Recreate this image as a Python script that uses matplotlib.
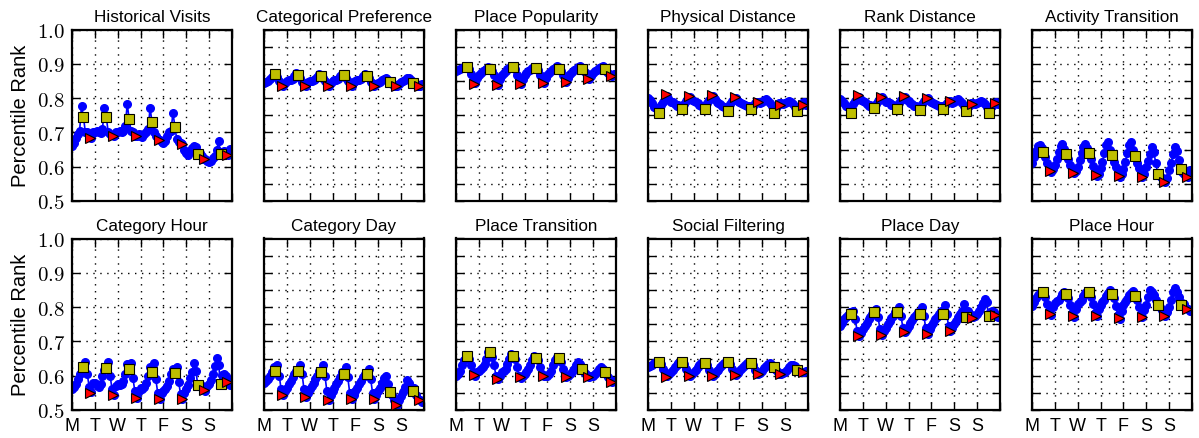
import matplotlib
matplotlib.use('Agg')
import matplotlib.pyplot as plt
import numpy as np

plt.rcParams['font.family'] = ['Liberation Sans', 'DejaVu Sans']
plt.rcParams['mathtext.fontset'] = 'cm'

titles = ['Historical Visits', 'Categorical Preference', 'Place Popularity',
          'Physical Distance', 'Rank Distance', 'Activity Transition',
          'Category Hour', 'Category Day', 'Place Transition',
          'Social Filtering', 'Place Day', 'Place Hour']
day_labels = ['M', 'T', 'W', 'T', 'F', 'S', 'S']

# percentile rank every two hours, from Monday 00:00 (one row per day)
historical_visits = [
    0.660, 0.670, 0.685, 0.695, 0.705, 0.778, 0.746, 0.700, 0.700, 0.690, 0.684, 0.700,
    0.702, 0.705, 0.700, 0.698, 0.710, 0.772, 0.746, 0.700, 0.695, 0.692, 0.690, 0.700,
    0.700, 0.705, 0.702, 0.705, 0.720, 0.783, 0.739, 0.705, 0.700, 0.690, 0.689, 0.695,
    0.690, 0.688, 0.695, 0.700, 0.710, 0.772, 0.729, 0.700, 0.690, 0.680, 0.677, 0.672,
    0.668, 0.675, 0.690, 0.700, 0.705, 0.758, 0.717, 0.680, 0.672, 0.668, 0.665, 0.648,
    0.640, 0.635, 0.645, 0.655, 0.660, 0.658, 0.638, 0.640, 0.632, 0.622, 0.621, 0.618,
    0.615, 0.618, 0.625, 0.632, 0.650, 0.675, 0.638, 0.642, 0.645, 0.638, 0.634, 0.652]
categorical_preference = [
    0.845, 0.848, 0.850, 0.855, 0.862, 0.872, 0.870, 0.862, 0.850, 0.838, 0.836, 0.845,
    0.850, 0.852, 0.852, 0.856, 0.864, 0.872, 0.867, 0.860, 0.848, 0.837, 0.835, 0.846,
    0.850, 0.851, 0.853, 0.855, 0.862, 0.870, 0.864, 0.858, 0.849, 0.838, 0.835, 0.845,
    0.851, 0.852, 0.853, 0.857, 0.864, 0.871, 0.867, 0.860, 0.850, 0.838, 0.836, 0.846,
    0.850, 0.852, 0.854, 0.857, 0.863, 0.869, 0.864, 0.858, 0.848, 0.838, 0.835, 0.842,
    0.845, 0.848, 0.852, 0.856, 0.858, 0.854, 0.846, 0.842, 0.838, 0.835, 0.834, 0.840,
    0.846, 0.850, 0.853, 0.858, 0.860, 0.852, 0.843, 0.840, 0.838, 0.836, 0.835, 0.840]
place_popularity = [
    0.880, 0.882, 0.884, 0.887, 0.890, 0.893, 0.891, 0.885, 0.870, 0.852, 0.843, 0.858,
    0.868, 0.874, 0.878, 0.882, 0.886, 0.890, 0.886, 0.880, 0.866, 0.848, 0.838, 0.855,
    0.866, 0.873, 0.879, 0.884, 0.888, 0.893, 0.891, 0.885, 0.868, 0.850, 0.842, 0.856,
    0.866, 0.873, 0.878, 0.883, 0.888, 0.892, 0.888, 0.882, 0.868, 0.852, 0.845, 0.858,
    0.868, 0.874, 0.879, 0.884, 0.889, 0.894, 0.886, 0.880, 0.868, 0.855, 0.847, 0.860,
    0.870, 0.876, 0.882, 0.886, 0.890, 0.894, 0.886, 0.880, 0.872, 0.862, 0.855, 0.865,
    0.872, 0.878, 0.883, 0.888, 0.892, 0.895, 0.884, 0.878, 0.872, 0.868, 0.864, 0.870]
physical_distance = [
    0.800, 0.795, 0.785, 0.775, 0.772, 0.770, 0.768, 0.780, 0.790, 0.800, 0.805, 0.795,
    0.790, 0.788, 0.783, 0.778, 0.780, 0.776, 0.772, 0.782, 0.792, 0.800, 0.803, 0.795,
    0.792, 0.790, 0.786, 0.780, 0.778, 0.776, 0.773, 0.785, 0.795, 0.802, 0.805, 0.796,
    0.790, 0.786, 0.782, 0.776, 0.774, 0.773, 0.770, 0.782, 0.792, 0.798, 0.800, 0.792,
    0.788, 0.786, 0.783, 0.780, 0.778, 0.776, 0.772, 0.778, 0.786, 0.790, 0.790, 0.786,
    0.790, 0.794, 0.796, 0.792, 0.785, 0.776, 0.768, 0.772, 0.780, 0.786, 0.786, 0.782,
    0.786, 0.790, 0.792, 0.790, 0.782, 0.775, 0.770, 0.772, 0.778, 0.785, 0.788, 0.780]
rank_distance = [
    0.798, 0.793, 0.786, 0.777, 0.773, 0.770, 0.768, 0.782, 0.792, 0.800, 0.804, 0.794,
    0.791, 0.788, 0.782, 0.777, 0.779, 0.777, 0.773, 0.784, 0.793, 0.800, 0.802, 0.794,
    0.790, 0.789, 0.785, 0.780, 0.779, 0.777, 0.774, 0.786, 0.795, 0.801, 0.803, 0.795,
    0.791, 0.787, 0.782, 0.777, 0.776, 0.774, 0.771, 0.783, 0.792, 0.798, 0.799, 0.792,
    0.789, 0.786, 0.783, 0.780, 0.778, 0.776, 0.773, 0.779, 0.787, 0.792, 0.792, 0.787,
    0.790, 0.795, 0.797, 0.793, 0.786, 0.777, 0.770, 0.774, 0.781, 0.786, 0.787, 0.783,
    0.786, 0.790, 0.793, 0.790, 0.783, 0.775, 0.768, 0.771, 0.778, 0.785, 0.788, 0.782]
activity_transition = [
    0.610, 0.628, 0.645, 0.660, 0.664, 0.655, 0.643, 0.628, 0.612, 0.595, 0.585, 0.592,
    0.605, 0.622, 0.642, 0.660, 0.667, 0.652, 0.638, 0.622, 0.605, 0.590, 0.581, 0.588,
    0.600, 0.620, 0.640, 0.658, 0.665, 0.654, 0.640, 0.622, 0.602, 0.585, 0.574, 0.580,
    0.595, 0.615, 0.640, 0.662, 0.672, 0.650, 0.633, 0.615, 0.598, 0.582, 0.571, 0.578,
    0.593, 0.615, 0.640, 0.662, 0.672, 0.650, 0.632, 0.612, 0.595, 0.580, 0.570, 0.578,
    0.598, 0.618, 0.638, 0.656, 0.642, 0.610, 0.580, 0.572, 0.566, 0.558, 0.555, 0.568,
    0.590, 0.612, 0.636, 0.656, 0.645, 0.620, 0.594, 0.586, 0.580, 0.573, 0.570, 0.590]
category_hour = [
    0.560, 0.566, 0.576, 0.590, 0.605, 0.620, 0.626, 0.640, 0.605, 0.568, 0.552, 0.580,
    0.578, 0.572, 0.566, 0.575, 0.600, 0.618, 0.622, 0.640, 0.600, 0.562, 0.545, 0.570,
    0.575, 0.572, 0.575, 0.586, 0.606, 0.634, 0.620, 0.637, 0.592, 0.555, 0.536, 0.555,
    0.565, 0.560, 0.566, 0.580, 0.600, 0.625, 0.610, 0.638, 0.590, 0.550, 0.533, 0.550,
    0.556, 0.560, 0.570, 0.586, 0.606, 0.620, 0.609, 0.624, 0.582, 0.546, 0.531, 0.550,
    0.560, 0.572, 0.592, 0.612, 0.638, 0.615, 0.574, 0.576, 0.570, 0.560, 0.556, 0.570,
    0.576, 0.588, 0.605, 0.628, 0.652, 0.630, 0.577, 0.602, 0.606, 0.598, 0.584, 0.572]
category_day = [
    0.580, 0.585, 0.590, 0.600, 0.610, 0.625, 0.615, 0.630, 0.600, 0.560, 0.543, 0.555,
    0.565, 0.575, 0.585, 0.595, 0.605, 0.615, 0.613, 0.632, 0.605, 0.560, 0.538, 0.550,
    0.560, 0.570, 0.580, 0.590, 0.600, 0.615, 0.612, 0.632, 0.600, 0.555, 0.530, 0.545,
    0.555, 0.565, 0.575, 0.585, 0.595, 0.610, 0.605, 0.625, 0.595, 0.550, 0.532, 0.545,
    0.555, 0.565, 0.575, 0.585, 0.595, 0.605, 0.606, 0.620, 0.590, 0.550, 0.532, 0.545,
    0.555, 0.565, 0.578, 0.592, 0.598, 0.575, 0.553, 0.545, 0.530, 0.520, 0.516, 0.530,
    0.540, 0.552, 0.568, 0.588, 0.580, 0.568, 0.556, 0.565, 0.545, 0.532, 0.528, 0.522]
place_transition = [
    0.600, 0.605, 0.615, 0.630, 0.645, 0.655, 0.658, 0.650, 0.630, 0.610, 0.600, 0.610,
    0.615, 0.620, 0.625, 0.635, 0.650, 0.668, 0.668, 0.655, 0.630, 0.600, 0.590, 0.600,
    0.610, 0.615, 0.620, 0.635, 0.650, 0.662, 0.658, 0.648, 0.625, 0.600, 0.594, 0.600,
    0.605, 0.610, 0.620, 0.630, 0.645, 0.658, 0.653, 0.645, 0.625, 0.605, 0.598, 0.600,
    0.600, 0.605, 0.615, 0.630, 0.645, 0.655, 0.652, 0.640, 0.620, 0.600, 0.595, 0.600,
    0.605, 0.610, 0.620, 0.632, 0.640, 0.635, 0.620, 0.612, 0.605, 0.598, 0.595, 0.598,
    0.600, 0.605, 0.612, 0.620, 0.625, 0.620, 0.610, 0.605, 0.595, 0.588, 0.583, 0.585]
social_filtering = [
    0.625, 0.628, 0.632, 0.636, 0.640, 0.642, 0.641, 0.635, 0.620, 0.605, 0.598, 0.605,
    0.612, 0.618, 0.624, 0.630, 0.636, 0.640, 0.640, 0.634, 0.620, 0.605, 0.598, 0.605,
    0.612, 0.618, 0.625, 0.630, 0.636, 0.640, 0.638, 0.632, 0.618, 0.605, 0.600, 0.606,
    0.613, 0.618, 0.624, 0.630, 0.636, 0.641, 0.639, 0.633, 0.620, 0.608, 0.603, 0.608,
    0.614, 0.620, 0.626, 0.632, 0.637, 0.640, 0.637, 0.630, 0.618, 0.608, 0.604, 0.608,
    0.615, 0.622, 0.628, 0.634, 0.636, 0.632, 0.624, 0.618, 0.612, 0.606, 0.604, 0.607,
    0.612, 0.618, 0.625, 0.630, 0.632, 0.628, 0.618, 0.615, 0.612, 0.612, 0.612, 0.614]
place_day = [
    0.745, 0.755, 0.765, 0.772, 0.778, 0.785, 0.780, 0.790, 0.765, 0.730, 0.715, 0.725,
    0.735, 0.745, 0.755, 0.765, 0.772, 0.780, 0.785, 0.795, 0.770, 0.735, 0.720, 0.730,
    0.740, 0.750, 0.760, 0.768, 0.775, 0.785, 0.787, 0.800, 0.775, 0.740, 0.728, 0.735,
    0.745, 0.755, 0.762, 0.770, 0.777, 0.785, 0.781, 0.800, 0.775, 0.740, 0.723, 0.735,
    0.745, 0.755, 0.765, 0.772, 0.780, 0.790, 0.780, 0.805, 0.780, 0.745, 0.730, 0.740,
    0.750, 0.760, 0.770, 0.780, 0.790, 0.810, 0.770, 0.790, 0.780, 0.770, 0.770, 0.775,
    0.780, 0.790, 0.800, 0.812, 0.825, 0.815, 0.775, 0.785, 0.790, 0.785, 0.775, 0.770]
place_hour = [
    0.802, 0.815, 0.826, 0.834, 0.840, 0.845, 0.843, 0.830, 0.810, 0.788, 0.778, 0.800,
    0.812, 0.818, 0.822, 0.830, 0.838, 0.844, 0.838, 0.826, 0.805, 0.782, 0.772, 0.795,
    0.808, 0.815, 0.822, 0.832, 0.840, 0.846, 0.843, 0.830, 0.808, 0.784, 0.774, 0.795,
    0.806, 0.814, 0.822, 0.832, 0.842, 0.850, 0.839, 0.826, 0.802, 0.778, 0.766, 0.790,
    0.805, 0.815, 0.824, 0.834, 0.842, 0.848, 0.833, 0.820, 0.800, 0.780, 0.770, 0.792,
    0.805, 0.830, 0.850, 0.845, 0.835, 0.822, 0.807, 0.800, 0.792, 0.780, 0.775, 0.785,
    0.800, 0.822, 0.845, 0.857, 0.845, 0.828, 0.806, 0.812, 0.808, 0.798, 0.794, 0.790]

# noon (yellow squares) and evening (red triangles) values for each day
noon = [
    [0.746, 0.746, 0.739, 0.729, 0.717, 0.638, 0.638],
    [0.870, 0.867, 0.864, 0.867, 0.864, 0.846, 0.843],
    [0.891, 0.886, 0.891, 0.888, 0.886, 0.886, 0.884],
    [0.756, 0.768, 0.767, 0.761, 0.767, 0.758, 0.762],
    [0.757, 0.770, 0.768, 0.765, 0.768, 0.762, 0.758],
    [0.643, 0.638, 0.640, 0.633, 0.632, 0.580, 0.594],
    [0.626, 0.622, 0.620, 0.610, 0.609, 0.574, 0.577],
    [0.615, 0.613, 0.612, 0.605, 0.606, 0.553, 0.556],
    [0.658, 0.668, 0.658, 0.653, 0.652, 0.620, 0.610],
    [0.641, 0.640, 0.638, 0.639, 0.637, 0.624, 0.618],
    [0.780, 0.785, 0.787, 0.781, 0.780, 0.770, 0.775],
    [0.843, 0.838, 0.843, 0.839, 0.833, 0.807, 0.806]]
evening = [
    [0.684, 0.690, 0.689, 0.677, 0.665, 0.621, 0.634],
    [0.836, 0.835, 0.835, 0.836, 0.835, 0.834, 0.835],
    [0.842, 0.837, 0.842, 0.845, 0.847, 0.855, 0.864],
    [0.811, 0.806, 0.809, 0.802, 0.789, 0.779, 0.781],
    [0.808, 0.804, 0.805, 0.800, 0.792, 0.783, 0.785],
    [0.587, 0.583, 0.575, 0.573, 0.571, 0.555, 0.571],
    [0.551, 0.544, 0.534, 0.533, 0.531, 0.557, 0.583],
    [0.543, 0.538, 0.530, 0.532, 0.532, 0.516, 0.528],
    [0.601, 0.589, 0.595, 0.598, 0.595, 0.596, 0.583],
    [0.597, 0.598, 0.600, 0.603, 0.604, 0.604, 0.612],
    [0.715, 0.720, 0.728, 0.723, 0.730, 0.768, 0.776],
    [0.780, 0.773, 0.775, 0.767, 0.771, 0.775, 0.794]]

series = [historical_visits, categorical_preference, place_popularity,
          physical_distance, rank_distance, activity_transition,
          category_hour, category_day, place_transition,
          social_filtering, place_day, place_hour]

hours = np.arange(84) * 2 / 24.0
days = np.arange(7)

fig = plt.figure(figsize=(11.99, 4.39), dpi=100)
for i in range(12):
    row, col = divmod(i, 6)
    ax = fig.add_axes([(72 + col * 192) / 1199.0, 1 - (202 + row * 209) / 439.0,
                       160 / 1199.0, 171.5 / 439.0])
    ax.plot(hours, series[i], '-o', color='b', mec='b', ms=5.5, lw=1.2, zorder=2)
    ax.plot(days + 0.5, noon[i], 's', color='y', mec='k', mew=0.8, ms=6.5, zorder=3)
    ax.plot(days + 19 / 24.0, evening[i], '>', color='r', mec='k', mew=0.8, ms=7, zorder=3)
    ax.set_xlim(0, 7)
    ax.set_ylim(0.5, 1.0)
    ax.set_xticks(np.arange(8))
    if col == 0:
        yt = np.arange(0.5, 1.01, 0.1)
        ax.set_yticks(yt)
        ax.set_yticklabels(['$%.1f$' % v for v in yt], fontsize=15)
        ax.set_ylabel('Percentile Rank', fontsize=14.5, labelpad=5)
    else:
        ax.set_yticks(np.arange(0.5, 1.001, 0.05))
        ax.set_yticklabels([])
    if row == 1:
        ax.set_xticklabels(day_labels + [''], fontsize=13)
    else:
        ax.set_xticklabels([])
    ax.tick_params(direction='in', length=6, width=1, top=True, right=True, pad=5)
    ax.grid(True, color='k', linestyle=(0, (1, 4)), linewidth=1)
    for s in ax.spines.values():
        s.set_linewidth(1.6)
    ax.set_title(titles[i], fontsize=12.3, pad=6)

fig.savefig('out.png', dpi=100)
